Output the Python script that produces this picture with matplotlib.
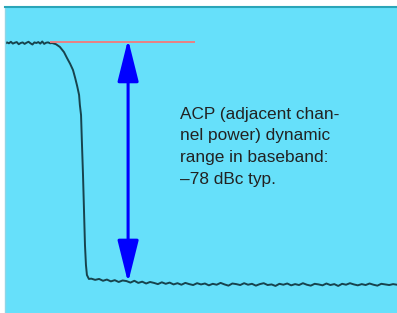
import matplotlib.pyplot as plt
import numpy as np

# spectrum trace, relative level in dB vs frequency (arbitrary units 0..100)
top_x = [0.0, 0.5, 1.0, 1.5, 2.0, 2.5, 3.0, 3.5, 4.0, 4.5, 5.0, 5.5,
         6.0, 6.5, 7.0, 7.5, 8.0, 8.5, 9.0, 9.5, 10.0, 10.5, 11.0, 11.5]
top_y = [-0.3, 0.2, -0.1, 0.4, -0.2, 0.1, 0.3, -0.4, 0.0, 0.2, -0.3, 0.1,
         0.4, -0.1, -0.5, 0.2, 0.0, 0.3, -0.2, 0.5, -0.3, 0.1, 0.2, -0.1]

edge_x = [12.0, 13.0, 14.0, 15.05, 15.8, 16.6, 17.35, 17.9, 18.4, 18.9, 19.1,
          19.4, 19.6, 19.9, 20.15, 20.4, 20.65, 20.9, 21.4]
edge_y = [0.0, -0.4, -1.3, -3.0, -4.9, -6.8, -8.9, -11.5, -14.1, -17.1, -20.4,
          -23.7, -31.9, -43.4, -54.9, -66.4, -73.0, -76.3, -77.6]

floor_x = [22, 23, 24, 25, 26, 27, 28, 29, 30, 31,
           32, 33, 34, 35, 36, 37, 38, 39, 40, 41,
           42, 43, 44, 45, 46, 47, 48, 49, 50, 51,
           52, 53, 54, 55, 56, 57, 58, 59, 60, 61,
           62, 63, 64, 65, 66, 67, 68, 69, 70, 71,
           72, 73, 74, 75, 76, 77, 78, 79, 80, 81,
           82, 83, 84, 85, 86, 87, 88, 89, 90, 91,
           92, 93, 94, 95, 96, 97, 98, 99, 100]
floor_y = [-77.5, -77.9, -77.6, -78.2, -77.8, -78.4, -78.0, -78.6, -78.1, -78.3,
           -78.8, -78.2, -78.9, -78.5, -79.1, -78.6, -78.9, -79.3, -78.7, -79.2,
           -78.8, -79.4, -79.0, -79.5, -78.9, -79.3, -79.6, -79.0, -79.4, -79.1,
           -79.7, -79.2, -79.5, -78.9, -79.4, -79.8, -79.1, -79.3, -79.6, -79.0,
           -79.5, -79.2, -79.8, -79.3, -79.0, -79.6, -79.4, -79.9, -79.2, -79.5,
           -79.1, -79.7, -79.3, -79.6, -79.0, -79.5, -79.8, -79.2, -79.4, -79.7,
           -79.1, -79.6, -79.3, -79.9, -79.2, -79.5, -79.0, -79.4, -79.7, -79.3,
           -79.6, -79.1, -79.5, -79.8, -79.2, -79.4, -79.6, -79.3, -79.5]

ref_db = 0.3
ref_span = (11.5, 48.5)
arrow_x = 31.4
range_top, range_bottom = 0.0, -78.0
label = 'ACP (adjacent chan-\nnel power) dynamic\nrange in baseband:\n\u201378 dBc typ.'

x = np.concatenate([top_x, edge_x, floor_x])
y = np.concatenate([top_y, edge_y, floor_y])

fig = plt.figure(figsize=(3.97, 3.13), dpi=100)
ax = fig.add_axes([5 / 397, 0, 392 / 397, 306 / 313])
ax.set_facecolor('#66e0fa')

ax.plot(x, y, color='#17434d', lw=1.4)
ax.hlines(ref_db, *ref_span, color='#f47a7a', lw=1.3)
ax.annotate('', xy=(arrow_x, range_top + 1.2), xytext=(arrow_x, range_bottom - 0.8),
            arrowprops=dict(arrowstyle='<|-|>,head_length=2.6,head_width=0.65',
                            mutation_scale=10, color='#0000ff', lw=2.2,
                            shrinkA=0, shrinkB=0))
ax.text(44.6, -21.0, label, fontsize=12.4, color='#222222', va='top', ha='left',
        linespacing=1.55, family=['Liberation Sans'])

ax.set_xlim(0, 100)
ax.set_ylim(-88.8, 11.84)
ax.set_xticks([])
ax.set_yticks([])
for s in ['right', 'bottom']:
    ax.spines[s].set_visible(False)
ax.spines['top'].set_color('#2aa5b8')
ax.spines['top'].set_linewidth(1.5)
ax.spines['left'].set_color('#8fd6e6')
ax.spines['left'].set_linewidth(1.0)

fig.savefig('out.png', dpi=100)
